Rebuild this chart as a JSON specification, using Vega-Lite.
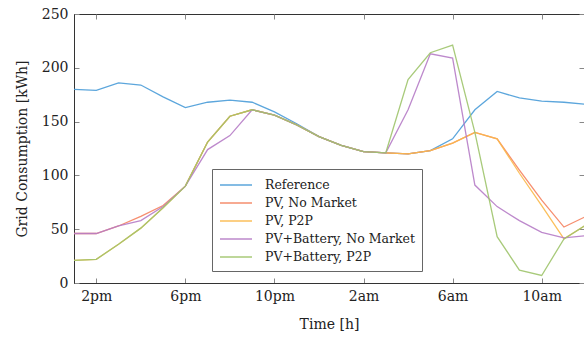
{
  "$schema": "https://vega.github.io/schema/vega-lite/v6.json",
  "width": 510,
  "height": 269,
  "autosize": {"type": "none"},
  "padding": {"left": 74, "top": 14, "right": 0, "bottom": 54},
  "background": "white",
  "config": {
    "view": {"stroke": "#333", "strokeWidth": 1},
    "font": "DejaVu Serif",
    "axis": {
      "labelFont": "DejaVu Serif",
      "titleFont": "DejaVu Serif",
      "labelFontSize": 14,
      "titleFontSize": 14,
      "titleFontWeight": "normal",
      "labelColor": "#222",
      "titleColor": "#222",
      "domainColor": "#333",
      "tickColor": "#888",
      "grid": false
    }
  },
  "data": {
    "values": [
      {"t":13,"s":"Reference","v":180},{"t":14,"s":"Reference","v":179},{"t":15,"s":"Reference","v":186},{"t":16,"s":"Reference","v":184},{"t":17,"s":"Reference","v":173},{"t":18,"s":"Reference","v":163},{"t":19,"s":"Reference","v":168},{"t":20,"s":"Reference","v":170},{"t":21,"s":"Reference","v":168},{"t":22,"s":"Reference","v":159},{"t":23,"s":"Reference","v":148},{"t":24,"s":"Reference","v":136},{"t":25,"s":"Reference","v":128},{"t":26,"s":"Reference","v":122},{"t":27,"s":"Reference","v":121},{"t":28,"s":"Reference","v":120},{"t":29,"s":"Reference","v":123},{"t":30,"s":"Reference","v":134},{"t":31,"s":"Reference","v":161},{"t":32,"s":"Reference","v":178},{"t":33,"s":"Reference","v":172},{"t":34,"s":"Reference","v":169},{"t":35,"s":"Reference","v":168},{"t":36,"s":"Reference","v":166},
      {"t":13,"s":"PV, No Market","v":46},{"t":14,"s":"PV, No Market","v":46},{"t":15,"s":"PV, No Market","v":53},{"t":16,"s":"PV, No Market","v":62},{"t":17,"s":"PV, No Market","v":72},{"t":18,"s":"PV, No Market","v":90},{"t":19,"s":"PV, No Market","v":131},{"t":20,"s":"PV, No Market","v":155},{"t":21,"s":"PV, No Market","v":161},{"t":22,"s":"PV, No Market","v":156},{"t":23,"s":"PV, No Market","v":147},{"t":24,"s":"PV, No Market","v":136},{"t":25,"s":"PV, No Market","v":128},{"t":26,"s":"PV, No Market","v":122},{"t":27,"s":"PV, No Market","v":121},{"t":28,"s":"PV, No Market","v":120},{"t":29,"s":"PV, No Market","v":123},{"t":30,"s":"PV, No Market","v":130},{"t":31,"s":"PV, No Market","v":140},{"t":32,"s":"PV, No Market","v":134},{"t":33,"s":"PV, No Market","v":105},{"t":34,"s":"PV, No Market","v":77},{"t":35,"s":"PV, No Market","v":52},{"t":36,"s":"PV, No Market","v":62},
      {"t":13,"s":"PV, P2P","v":21},{"t":14,"s":"PV, P2P","v":22},{"t":15,"s":"PV, P2P","v":36},{"t":16,"s":"PV, P2P","v":51},{"t":17,"s":"PV, P2P","v":70},{"t":18,"s":"PV, P2P","v":90},{"t":19,"s":"PV, P2P","v":131},{"t":20,"s":"PV, P2P","v":155},{"t":21,"s":"PV, P2P","v":161},{"t":22,"s":"PV, P2P","v":156},{"t":23,"s":"PV, P2P","v":147},{"t":24,"s":"PV, P2P","v":136},{"t":25,"s":"PV, P2P","v":128},{"t":26,"s":"PV, P2P","v":122},{"t":27,"s":"PV, P2P","v":121},{"t":28,"s":"PV, P2P","v":120},{"t":29,"s":"PV, P2P","v":123},{"t":30,"s":"PV, P2P","v":130},{"t":31,"s":"PV, P2P","v":140},{"t":32,"s":"PV, P2P","v":134},{"t":33,"s":"PV, P2P","v":102},{"t":34,"s":"PV, P2P","v":72},{"t":35,"s":"PV, P2P","v":41},{"t":36,"s":"PV, P2P","v":54},
      {"t":13,"s":"PV+Battery, No Market","v":46},{"t":14,"s":"PV+Battery, No Market","v":46},{"t":15,"s":"PV+Battery, No Market","v":53},{"t":16,"s":"PV+Battery, No Market","v":58},{"t":17,"s":"PV+Battery, No Market","v":71},{"t":18,"s":"PV+Battery, No Market","v":90},{"t":19,"s":"PV+Battery, No Market","v":124},{"t":20,"s":"PV+Battery, No Market","v":137},{"t":21,"s":"PV+Battery, No Market","v":161},{"t":22,"s":"PV+Battery, No Market","v":156},{"t":23,"s":"PV+Battery, No Market","v":147},{"t":24,"s":"PV+Battery, No Market","v":136},{"t":25,"s":"PV+Battery, No Market","v":128},{"t":26,"s":"PV+Battery, No Market","v":122},{"t":27,"s":"PV+Battery, No Market","v":121},{"t":28,"s":"PV+Battery, No Market","v":161},{"t":29,"s":"PV+Battery, No Market","v":213},{"t":30,"s":"PV+Battery, No Market","v":209},{"t":31,"s":"PV+Battery, No Market","v":91},{"t":32,"s":"PV+Battery, No Market","v":71},{"t":33,"s":"PV+Battery, No Market","v":58},{"t":34,"s":"PV+Battery, No Market","v":47},{"t":35,"s":"PV+Battery, No Market","v":42},{"t":36,"s":"PV+Battery, No Market","v":44},
      {"t":13,"s":"PV+Battery, P2P","v":21},{"t":14,"s":"PV+Battery, P2P","v":22},{"t":15,"s":"PV+Battery, P2P","v":36},{"t":16,"s":"PV+Battery, P2P","v":51},{"t":17,"s":"PV+Battery, P2P","v":70},{"t":18,"s":"PV+Battery, P2P","v":90},{"t":19,"s":"PV+Battery, P2P","v":131},{"t":20,"s":"PV+Battery, P2P","v":155},{"t":21,"s":"PV+Battery, P2P","v":161},{"t":22,"s":"PV+Battery, P2P","v":156},{"t":23,"s":"PV+Battery, P2P","v":147},{"t":24,"s":"PV+Battery, P2P","v":136},{"t":25,"s":"PV+Battery, P2P","v":128},{"t":26,"s":"PV+Battery, P2P","v":122},{"t":27,"s":"PV+Battery, P2P","v":121},{"t":28,"s":"PV+Battery, P2P","v":189},{"t":29,"s":"PV+Battery, P2P","v":214},{"t":30,"s":"PV+Battery, P2P","v":221},{"t":31,"s":"PV+Battery, P2P","v":140},{"t":32,"s":"PV+Battery, P2P","v":43},{"t":33,"s":"PV+Battery, P2P","v":12},{"t":34,"s":"PV+Battery, P2P","v":7},{"t":35,"s":"PV+Battery, P2P","v":41},{"t":36,"s":"PV+Battery, P2P","v":54}
    ]
  },
  "layer": [
    {
      "mark": {"type": "line", "clip": true, "strokeWidth": 1.3, "opacity": 0.9},
      "encoding": {
        "x": {
          "field": "t", "type": "quantitative",
          "scale": {"domain": [13, 35.9], "nice": false, "zero": false},
          "axis": {
            "title": "Time [h]",
            "values": [14, 18, 22, 26, 30, 34],
            "labelExpr": "(datum.value % 12 == 0 ? 12 : datum.value % 12) + (datum.value % 24 < 12 ? 'am' : 'pm')",
            "tickSize": -5,
            "labelPadding": 11,
            "titlePadding": 14
          }
        },
        "y": {
          "field": "v", "type": "quantitative",
          "scale": {"domain": [0, 250], "nice": false},
          "axis": {
            "title": "Grid Consumption [kWh]",
            "values": [0, 50, 100, 150, 200, 250],
            "tickSize": -5,
            "labelPadding": 11,
            "titlePadding": 12
          }
        },
        "color": {
          "field": "s", "type": "nominal",
          "scale": {
            "domain": ["Reference", "PV, No Market", "PV, P2P", "PV+Battery, No Market", "PV+Battery, P2P"],
            "range": ["#4A9CD8", "#F5825F", "#FBB84A", "#B67CC6", "#9FC46B"]
          },
          "legend": {
            "title": null,
            "orient": "none",
            "legendX": 138,
            "legendY": 155,
            "direction": "vertical",
            "fillColor": "white",
            "strokeColor": "#666",
            "padding": 7,
            "labelFont": "DejaVu Serif",
            "labelFontSize": 12.5,
            "labelColor": "#222",
            "symbolType": "M-2,0H2",
            "symbolSize": 256,
            "symbolStrokeWidth": 1.5,
            "symbolOffset": 8,
            "labelOffset": 20,
            "rowPadding": 2
          }
        }
      }
    },
    {
      "mark": {"type": "line", "opacity": 0, "clip": true},
      "encoding": {
        "x": {
          "field": "t", "type": "quantitative",
          "scale": {"domain": [13, 35.9], "nice": false, "zero": false},
          "axis": {"orient": "top", "title": null, "labels": false, "domain": false, "values": [14, 18, 22, 26, 30, 34], "tickSize": -5}
        },
        "y": {
          "field": "v", "type": "quantitative",
          "scale": {"domain": [0, 250], "nice": false},
          "axis": {"orient": "right", "title": null, "labels": false, "domain": false, "values": [0, 50, 100, 150, 200, 250], "tickSize": -5}
        }
      }
    }
  ],
  "resolve": {"axis": {"x": "independent", "y": "independent"}}
}
